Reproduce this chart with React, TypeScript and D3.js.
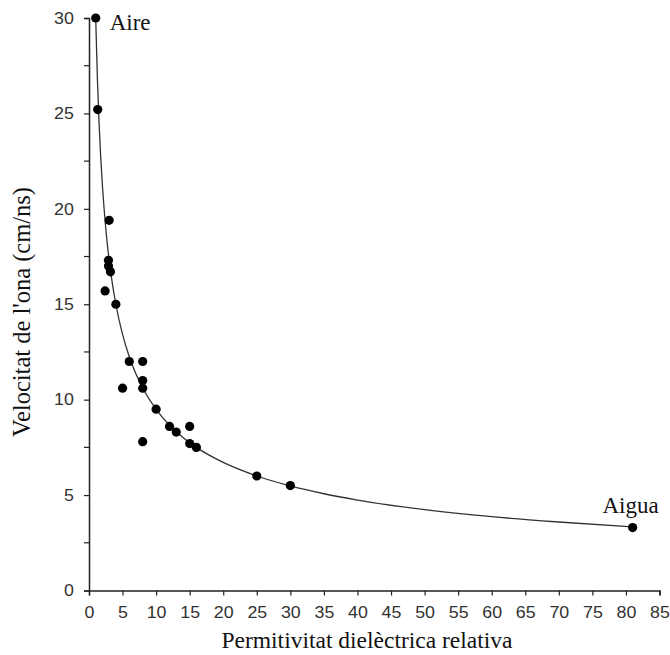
import React, { useEffect, useRef } from "react";
import * as d3 from "d3";

const permittivity = [1, 1.3, 3, 2.9, 2.9, 3.2, 2.4, 4, 6, 8, 8, 8, 5, 10, 12, 13, 15, 8, 15, 16, 25, 30, 81];
const velocity = [30, 25.2, 19.4, 17.3, 17.0, 16.7, 15.7, 15.0, 12.0, 12.0, 11.0, 10.6, 10.6, 9.5, 8.6, 8.3, 8.6, 7.8, 7.7, 7.5, 6.0, 5.5, 3.3];

const curveX = [1, 1.25, 1.5, 1.75, 2, 2.5, 3, 3.5, 4, 5, 6, 7, 8, 10, 12, 14, 16, 20, 25, 30, 35, 40, 50, 60, 70, 81];
const curveY = [30, 26.83, 24.49, 22.68, 21.21, 18.97, 17.32, 16.04, 15, 13.42, 12.25, 11.34, 10.61, 9.49, 8.66, 8.02, 7.5, 6.71, 6.0, 5.48, 5.07, 4.74, 4.24, 3.87, 3.59, 3.33];

const xTicks = [0, 5, 10, 15, 20, 25, 30, 35, 40, 45, 50, 55, 60, 65, 70, 75, 80, 85];
const yTicks = [0, 5, 10, 15, 20, 25, 30];
const yMinorTicks = [2.5, 7.5, 12.5, 17.5, 22.5, 27.5];

const annotations = [
  { label: "Aire", x: 1, y: 30 },
  { label: "Aigua", x: 81, y: 3.3 },
];

const xTitle = "Permitivitat dielèctrica relativa";
const yTitle = "Velocitat de l'ona (cm/ns)";

export default function App() {
  const ref = useRef<SVGSVGElement>(null);

  useEffect(() => {
    const svg = d3.select(ref.current);
    svg.selectAll("*").remove();

    const x = d3.scaleLinear().domain([0, 85]).range([89, 659.5]);
    const y = d3.scaleLinear().domain([0, 30]).range([590.5, 18]);

    const serif = "'Liberation Serif', 'Times New Roman', serif";
    const sans = "'Liberation Sans', Arial, sans-serif";

    // X axis
    const xAxis = d3
      .axisBottom(x)
      .tickValues(xTicks)
      .tickSize(5)
      .tickPadding(11)
      .tickFormat((d) => String(d));
    const gx = svg.append("g").attr("transform", `translate(0,${y(0)})`).call(xAxis);
    gx.select(".domain").attr("stroke", "#222").attr("stroke-width", 1.5);
    gx.selectAll(".tick line").attr("stroke", "#222").attr("stroke-width", 1.2);
    gx.selectAll(".tick text")
      .attr("font-family", sans)
      .attr("font-size", 16.5)
      .attr("transform", "scale(1.08,1)")
      .attr("fill", "#333");

    // Y axis
    const yAxis = d3
      .axisLeft(y)
      .tickValues(yTicks)
      .tickSize(5)
      .tickPadding(9)
      .tickFormat((d) => String(d));
    const gy = svg.append("g").attr("transform", `translate(${x(0)},0)`).call(yAxis);
    gy.select(".domain").attr("stroke", "#222").attr("stroke-width", 1.5);
    gy.selectAll(".tick line").attr("stroke", "#222").attr("stroke-width", 1.2);
    gy.selectAll(".tick text")
      .attr("font-family", sans)
      .attr("font-size", 16.5)
      .attr("transform", "scale(1.08,1)")
      .attr("fill", "#333");
    gy.selectAll(".minor")
      .data(yMinorTicks)
      .enter()
      .append("line")
      .attr("x1", -5)
      .attr("x2", 0)
      .attr("y1", (d) => y(d))
      .attr("y2", (d) => y(d))
      .attr("stroke", "#222")
      .attr("stroke-width", 1.2);

    // Curve
    const line = d3
      .line<number>()
      .x((_, i) => x(curveX[i]))
      .y((d) => y(d))
      .curve(d3.curveMonotoneX);
    svg
      .append("path")
      .attr("d", line(curveY))
      .attr("fill", "none")
      .attr("stroke", "#333")
      .attr("stroke-width", 1.3);

    // Points
    svg
      .append("g")
      .selectAll("circle")
      .data(velocity)
      .enter()
      .append("circle")
      .attr("cx", (_, i) => x(permittivity[i]))
      .attr("cy", (d) => y(d))
      .attr("r", 4.6)
      .attr("fill", "#000");

    // Annotations
    svg
      .append("text")
      .attr("x", x(annotations[0].x) + 14)
      .attr("y", y(annotations[0].y) + 12)
      .attr("font-family", serif)
      .attr("font-size", 23)
      .attr("fill", "#111")
      .text(annotations[0].label);
    svg
      .append("text")
      .attr("x", x(annotations[1].x) + 26)
      .attr("y", y(annotations[1].y) - 15)
      .attr("text-anchor", "end")
      .attr("font-family", serif)
      .attr("font-size", 23)
      .attr("fill", "#111")
      .text(annotations[1].label);

    // Titles
    svg
      .append("text")
      .attr("x", 367)
      .attr("y", 648)
      .attr("text-anchor", "middle")
      .attr("font-family", serif)
      .attr("font-size", 23.5)
      .attr("fill", "#111")
      .text(xTitle);
    svg
      .append("text")
      .attr("transform", `translate(30,312) rotate(-90)`)
      .attr("text-anchor", "middle")
      .attr("font-family", serif)
      .attr("font-size", 24.5)
      .attr("fill", "#111")
      .text(yTitle);
  }, []);

  return (
    <svg
      ref={ref}
      width={670}
      height={655}
      style={{ position: "absolute", left: 0, top: 0, background: "#fff" }}
    />
  );
}
